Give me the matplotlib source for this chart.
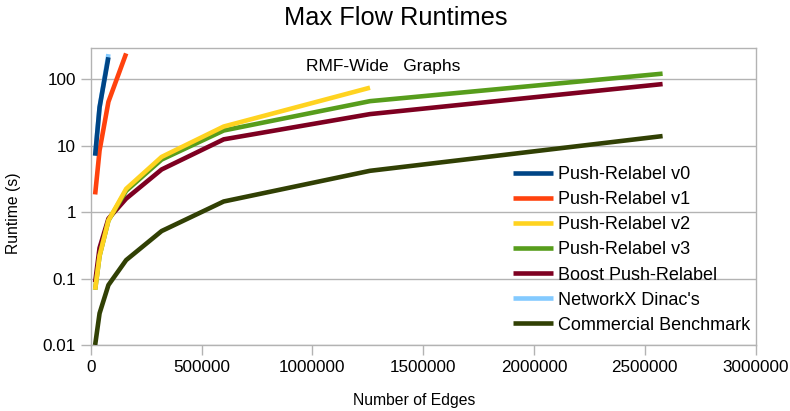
import matplotlib
matplotlib.use("Agg")
import matplotlib.pyplot as plt

plt.rcParams['font.family'] = ['Liberation Sans', 'DejaVu Sans']

# Data (RMF-Wide graphs)
edges = [20000, 40000, 80000, 160000, 320000, 600000, 1260000, 2580000]

pr_v0 = [7.1, 38, 215]
pr_v1 = [1.85, 8.5, 46, 246]
pr_v2 = [0.068, 0.22, 0.75, 2.25, 6.8, 19.5, 75]
pr_v3 = [0.068, 0.22, 0.75, 2.1, 6.2, 17, 47, 122]
boost = [0.088, 0.29, 0.8, 1.6, 4.4, 12.5, 30, 85]
networkx = [7.1, 38, 240]
commercial = [0.01, 0.03, 0.08, 0.19, 0.52, 1.45, 4.2, 14]

series = [
    ("Push-Relabel v0", pr_v0, "#004586"),
    ("Push-Relabel v1", pr_v1, "#ff420e"),
    ("Push-Relabel v2", pr_v2, "#ffd320"),
    ("Push-Relabel v3", pr_v3, "#579d1c"),
    ("Boost Push-Relabel", boost, "#7e0021"),
    ("NetworkX Dinac's", networkx, "#83caff"),
    ("Commercial Benchmark", commercial, "#314004"),
]

fig = plt.figure(figsize=(7.9, 4.11), dpi=100)
ax = fig.add_axes([90.7 / 790, 1 - 345 / 411, 665 / 790, (345 - 47.7) / 411])

grid_c = "#b3b3b3"
n = len(series)
for i, (name, vals, col) in enumerate(series):
    # later series sit underneath earlier ones, as in the original
    ax.plot(edges[:len(vals)], vals, color=col, lw=3.3, label=name,
            solid_capstyle='butt', zorder=10 + n - i)

ax.set_yscale('log')
ax.set_xlim(0, 3000000)
ax.set_ylim(0.01, 300)
ax.set_yticks([0.01, 0.1, 1, 10, 100])
ax.set_yticklabels(["0.01", "0.1", "1", "10", "100"])
ax.minorticks_off()
ax.set_xticks(range(0, 3000001, 500000))
ax.set_xticklabels([str(v) for v in range(0, 3000001, 500000)])
ax.yaxis.grid(True, color=grid_c, lw=1)
ax.set_axisbelow(True)
for s in ax.spines.values():
    s.set_color(grid_c)
    s.set_linewidth(1)
ax.tick_params(axis='both', colors=grid_c, labelcolor='black', labelsize=12.3,
               length=7, width=1, direction='out')

fig.text(396 / 790, 1 - 18 / 411, "Max Flow Runtimes", ha='center', va='center', fontsize=18.3)
fig.text(383 / 790, 1 - 66 / 411, "RMF-Wide   Graphs", ha='center', va='center', fontsize=12.5)
fig.text(414 / 790, 1 - 400 / 411, "Number of Edges", ha='center', va='center', fontsize=11.3)
fig.text(14 / 790, 1 - 213 / 411, "Runtime (s)", ha='center', va='center', fontsize=11.3,
         rotation=90)

leg = ax.legend(loc='upper left', bbox_to_anchor=(513 / 790, 1 - 166 / 411),
                bbox_transform=fig.transFigure, frameon=False, fontsize=13,
                handlelength=2.2, handletextpad=0.3, labelspacing=0.45,
                borderaxespad=0, borderpad=0)
leg.set_zorder(30)

fig.savefig("out.png", dpi=100)
